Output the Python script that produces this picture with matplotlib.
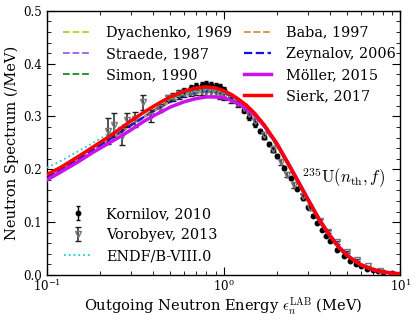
import numpy as np
import matplotlib
matplotlib.use("Agg")
import matplotlib.pyplot as plt
from matplotlib.ticker import MultipleLocator, FormatStrFormatter

plt.rcParams['font.family'] = ['DejaVu Serif']
plt.rcParams['mathtext.fontset'] = 'cm'

# ---- data ----
E_grid = [0.1, 0.12, 0.15, 0.18, 0.22, 0.26, 0.3, 0.35, 0.4, 0.45, 0.5, 0.6, 0.7,
          0.8, 0.9, 1.0, 1.1, 1.2, 1.35, 1.5, 1.7, 2.0, 2.3, 2.6, 3.0, 3.5, 4.0,
          4.5, 5.0, 5.5, 6.0, 7.0, 8.0, 9.0, 10.0]
sierk = [0.190, 0.204, 0.224, 0.241, 0.260, 0.277, 0.292, 0.307, 0.319, 0.329,
         0.337, 0.348, 0.354, 0.356, 0.354, 0.349, 0.342, 0.334, 0.321, 0.306,
         0.284, 0.249, 0.213, 0.181, 0.143, 0.103, 0.074, 0.052, 0.037, 0.027,
         0.019, 0.010, 0.0055, 0.0035, 0.002]
moller = [0.180, 0.195, 0.214, 0.231, 0.248, 0.262, 0.275, 0.290, 0.301, 0.310,
          0.318, 0.328, 0.334, 0.337, 0.337, 0.335, 0.331, 0.325, 0.315, 0.302,
          0.282, 0.249, 0.214, 0.182, 0.144, 0.104, 0.075, 0.053, 0.038, 0.027,
          0.019, 0.010, 0.0055, 0.003, 0.0018]
endf = [0.203, 0.216, 0.234, 0.249, 0.266, 0.281, 0.294, 0.307, 0.318, 0.327,
        0.334, 0.343, 0.348, 0.350, 0.349, 0.346, 0.340, 0.333, 0.319, 0.303,
        0.280, 0.244, 0.209, 0.176, 0.138, 0.099, 0.071, 0.050, 0.035, 0.025,
        0.018, 0.009, 0.0045, 0.0025, 0.0013]
zeynalov = [0.186, 0.200, 0.219, 0.236, 0.254, 0.270, 0.284, 0.298, 0.310, 0.320,
            0.328, 0.339, 0.345, 0.348, 0.348, 0.345, 0.339, 0.332, 0.319, 0.304,
            0.281, 0.245, 0.211, 0.178, 0.140, 0.100, 0.072, 0.051, 0.036, 0.026,
            0.018, 0.009, 0.005, 0.0027, 0.0015]
dyachenko = [0.187, 0.201, 0.219, 0.236, 0.254, 0.269, 0.283, 0.297, 0.309, 0.319,
             0.327, 0.338, 0.344, 0.347, 0.347, 0.344, 0.338, 0.331, 0.318, 0.303,
             0.280, 0.244, 0.210, 0.177, 0.139, 0.099, 0.071, 0.050, 0.035, 0.025,
             0.018, 0.009, 0.005, 0.0026, 0.0014]
straede = [0.185, 0.199, 0.218, 0.235, 0.253, 0.269, 0.283, 0.297, 0.309, 0.319,
           0.327, 0.338, 0.345, 0.347, 0.347, 0.344, 0.339, 0.332, 0.319, 0.304,
           0.281, 0.245, 0.211, 0.178, 0.140, 0.100, 0.072, 0.051, 0.036, 0.026,
           0.018, 0.009, 0.005, 0.0027, 0.0015]
simon = [0.186, 0.200, 0.219, 0.236, 0.254, 0.270, 0.285, 0.299, 0.312, 0.322,
         0.331, 0.342, 0.348, 0.351, 0.351, 0.348, 0.342, 0.334, 0.321, 0.305,
         0.282, 0.246, 0.211, 0.178, 0.140, 0.100, 0.072, 0.050, 0.035, 0.025,
         0.018, 0.009, 0.005, 0.0026, 0.0014]
baba = [0.187, 0.201, 0.220, 0.237, 0.255, 0.270, 0.284, 0.298, 0.310, 0.320,
        0.328, 0.339, 0.346, 0.348, 0.348, 0.345, 0.339, 0.331, 0.318, 0.303,
        0.280, 0.244, 0.210, 0.177, 0.139, 0.099, 0.071, 0.050, 0.035, 0.025,
        0.018, 0.009, 0.0045, 0.0025, 0.0013]

korn_E = [0.55, 0.6, 0.65, 0.7, 0.75, 0.8, 0.85, 0.9, 0.95, 1.0, 1.1, 1.2, 1.3, 1.4,
          1.5, 1.6, 1.7, 1.8, 1.9, 2.0, 2.2, 2.4, 2.6, 2.8, 3.0, 3.2, 3.4, 3.6, 3.8,
          4.0, 4.4, 4.8, 5.2, 5.6, 6.0, 6.5, 7.0, 7.5, 8.0, 9.0, 10.0]
korn_y = [0.342, 0.348, 0.353, 0.358, 0.360, 0.361, 0.360, 0.358, 0.355, 0.350,
          0.338, 0.325, 0.312, 0.299, 0.286, 0.273, 0.261, 0.248, 0.236, 0.225,
          0.203, 0.183, 0.163, 0.145, 0.128, 0.112, 0.098, 0.085, 0.074, 0.064,
          0.048, 0.036, 0.027, 0.020, 0.016, 0.012, 0.009, 0.007, 0.0055, 0.0035, 0.002]
korn_err = [0.006, 0.006, 0.006, 0.006, 0.006, 0.006, 0.006, 0.006, 0.006, 0.006,
            0.005, 0.005, 0.005, 0.005, 0.005, 0.004, 0.004, 0.004, 0.004, 0.004,
            0.004, 0.003, 0.003, 0.003, 0.003, 0.003, 0.002, 0.002, 0.002, 0.002,
            0.002, 0.002, 0.001, 0.001, 0.001, 0.001, 0.001, 0.001, 0.001, 0.001, 0.001]

voro_E = [0.222, 0.240, 0.266, 0.284, 0.315, 0.349, 0.388, 0.437, 0.484, 0.52, 0.56,
          0.6, 0.65, 0.7, 0.75, 0.8, 0.85, 0.9, 0.95, 1.0, 1.1, 1.2, 1.3, 1.4, 1.5,
          1.7, 1.9, 2.1, 2.3, 2.5, 2.8, 3.1, 3.5, 3.9, 4.4, 5.0, 5.7, 6.6, 7.7]
voro_y = [0.272, 0.284, 0.263, 0.294, 0.295, 0.327, 0.301, 0.316, 0.335, 0.337,
          0.342, 0.344, 0.346, 0.348, 0.348, 0.347, 0.346, 0.344, 0.342, 0.339,
          0.333, 0.325, 0.316, 0.304, 0.291, 0.264, 0.238, 0.214, 0.190, 0.170,
          0.150, 0.126, 0.102, 0.082, 0.062, 0.044, 0.028, 0.016, 0.008]
voro_err = [0.025, 0.023, 0.017, 0.013, 0.014, 0.014, 0.011, 0.008, 0.006, 0.008,
            0.008, 0.008, 0.008, 0.008, 0.008, 0.008, 0.008, 0.008, 0.008, 0.008,
            0.007, 0.007, 0.007, 0.007, 0.006, 0.006, 0.006, 0.005, 0.005, 0.005,
            0.004, 0.004, 0.003, 0.003, 0.003, 0.002, 0.002, 0.001, 0.001]

# ---- figure ----
fig = plt.figure(figsize=(4.16, 3.2), dpi=100)
ax = fig.add_axes([0.113, 0.141, 0.849, 0.825])

l_dy, = ax.plot(E_grid, dyachenko, ls='--', color='#c8c820', lw=1.3, label='Dyachenko, 1969')
l_st, = ax.plot(E_grid, straede, ls='--', color='#9b5ff0', lw=1.3, label='Straede, 1987')
l_si, = ax.plot(E_grid, simon, ls='--', color='#1a8a1a', lw=1.3, label='Simon, 1990')
l_ba, = ax.plot(E_grid, baba, ls='--', color='#d98b3a', lw=1.3, label='Baba, 1997')
l_ze, = ax.plot(E_grid, zeynalov, ls='--', color='#1010ee', lw=1.6, label='Zeynalov, 2006')

ek = ax.errorbar(korn_E, korn_y, yerr=korn_err, fmt='o', color='black', ms=3.2,
                 elinewidth=1.0, capsize=1.5, label='Kornilov, 2010', zorder=3)
ev = ax.errorbar(voro_E, voro_y, yerr=voro_err, fmt='v', mfc='none', mec='#777777',
                 ecolor='#222222', ms=4.5, elinewidth=1.1, capsize=2,
                 label='Vorobyev, 2013', zorder=3)
l_en, = ax.plot(E_grid, endf, ls=':', color='#22cccc', lw=1.3, label='ENDF/B-VIII.0', zorder=4)
l_mo, = ax.plot(E_grid, moller, ls='-', color='#cc11ee', lw=2.5, label='Möller, 2015', zorder=5)
l_sk, = ax.plot(E_grid, sierk, ls='-', color='#ff0000', lw=2.5, label='Sierk, 2017', zorder=6)

ax.set_xscale('log')
ax.set_xlim(0.1, 10)
ax.set_ylim(0.0, 0.5)
ax.yaxis.set_major_locator(MultipleLocator(0.1))
ax.yaxis.set_minor_locator(MultipleLocator(0.02))
ax.yaxis.set_major_formatter(FormatStrFormatter('%.1f'))
ax.tick_params(which='both', direction='in', top=True, right=True, labelsize=8.5)
ax.tick_params(which='major', length=6)
ax.tick_params(which='minor', length=3)
ax.tick_params(axis='x', pad=2.5)
for s in ax.spines.values():
    s.set_linewidth(1.0)

ax.set_xlabel(r'Outgoing Neutron Energy $\epsilon_n^{\rm LAB}$ (MeV)', fontsize=10.5, labelpad=1)
ax.set_ylabel('Neutron Spectrum (/MeV)', fontsize=10.5, labelpad=3)

ax.text(0.722, 0.367, r'$^{235}{\rm U}(n_{\rm th}, f)$', transform=ax.transAxes,
        fontsize=12, va='center', ha='left')

fs = 10.4
leg1 = ax.legend(handles=[l_dy, l_st, l_si], loc='upper left', bbox_to_anchor=(0.015, 0.985),
                 frameon=False, fontsize=fs, handlelength=1.9, handletextpad=1.1,
                 borderaxespad=0.35)
ax.add_artist(leg1)
leg2 = ax.legend(handles=[l_ba, l_ze, l_mo, l_sk], loc='upper left',
                 bbox_to_anchor=(0.527, 0.985), frameon=False, fontsize=fs,
                 handlelength=1.9, handletextpad=1.0, borderaxespad=0.35)
ax.add_artist(leg2)
leg3 = ax.legend(handles=[ek, ev, l_en], loc='lower left', bbox_to_anchor=(0.015, 0.0),
                 frameon=False, fontsize=fs, handlelength=1.9, handletextpad=1.0,
                 borderaxespad=0.4)

fig.savefig('out.png', dpi=100)
